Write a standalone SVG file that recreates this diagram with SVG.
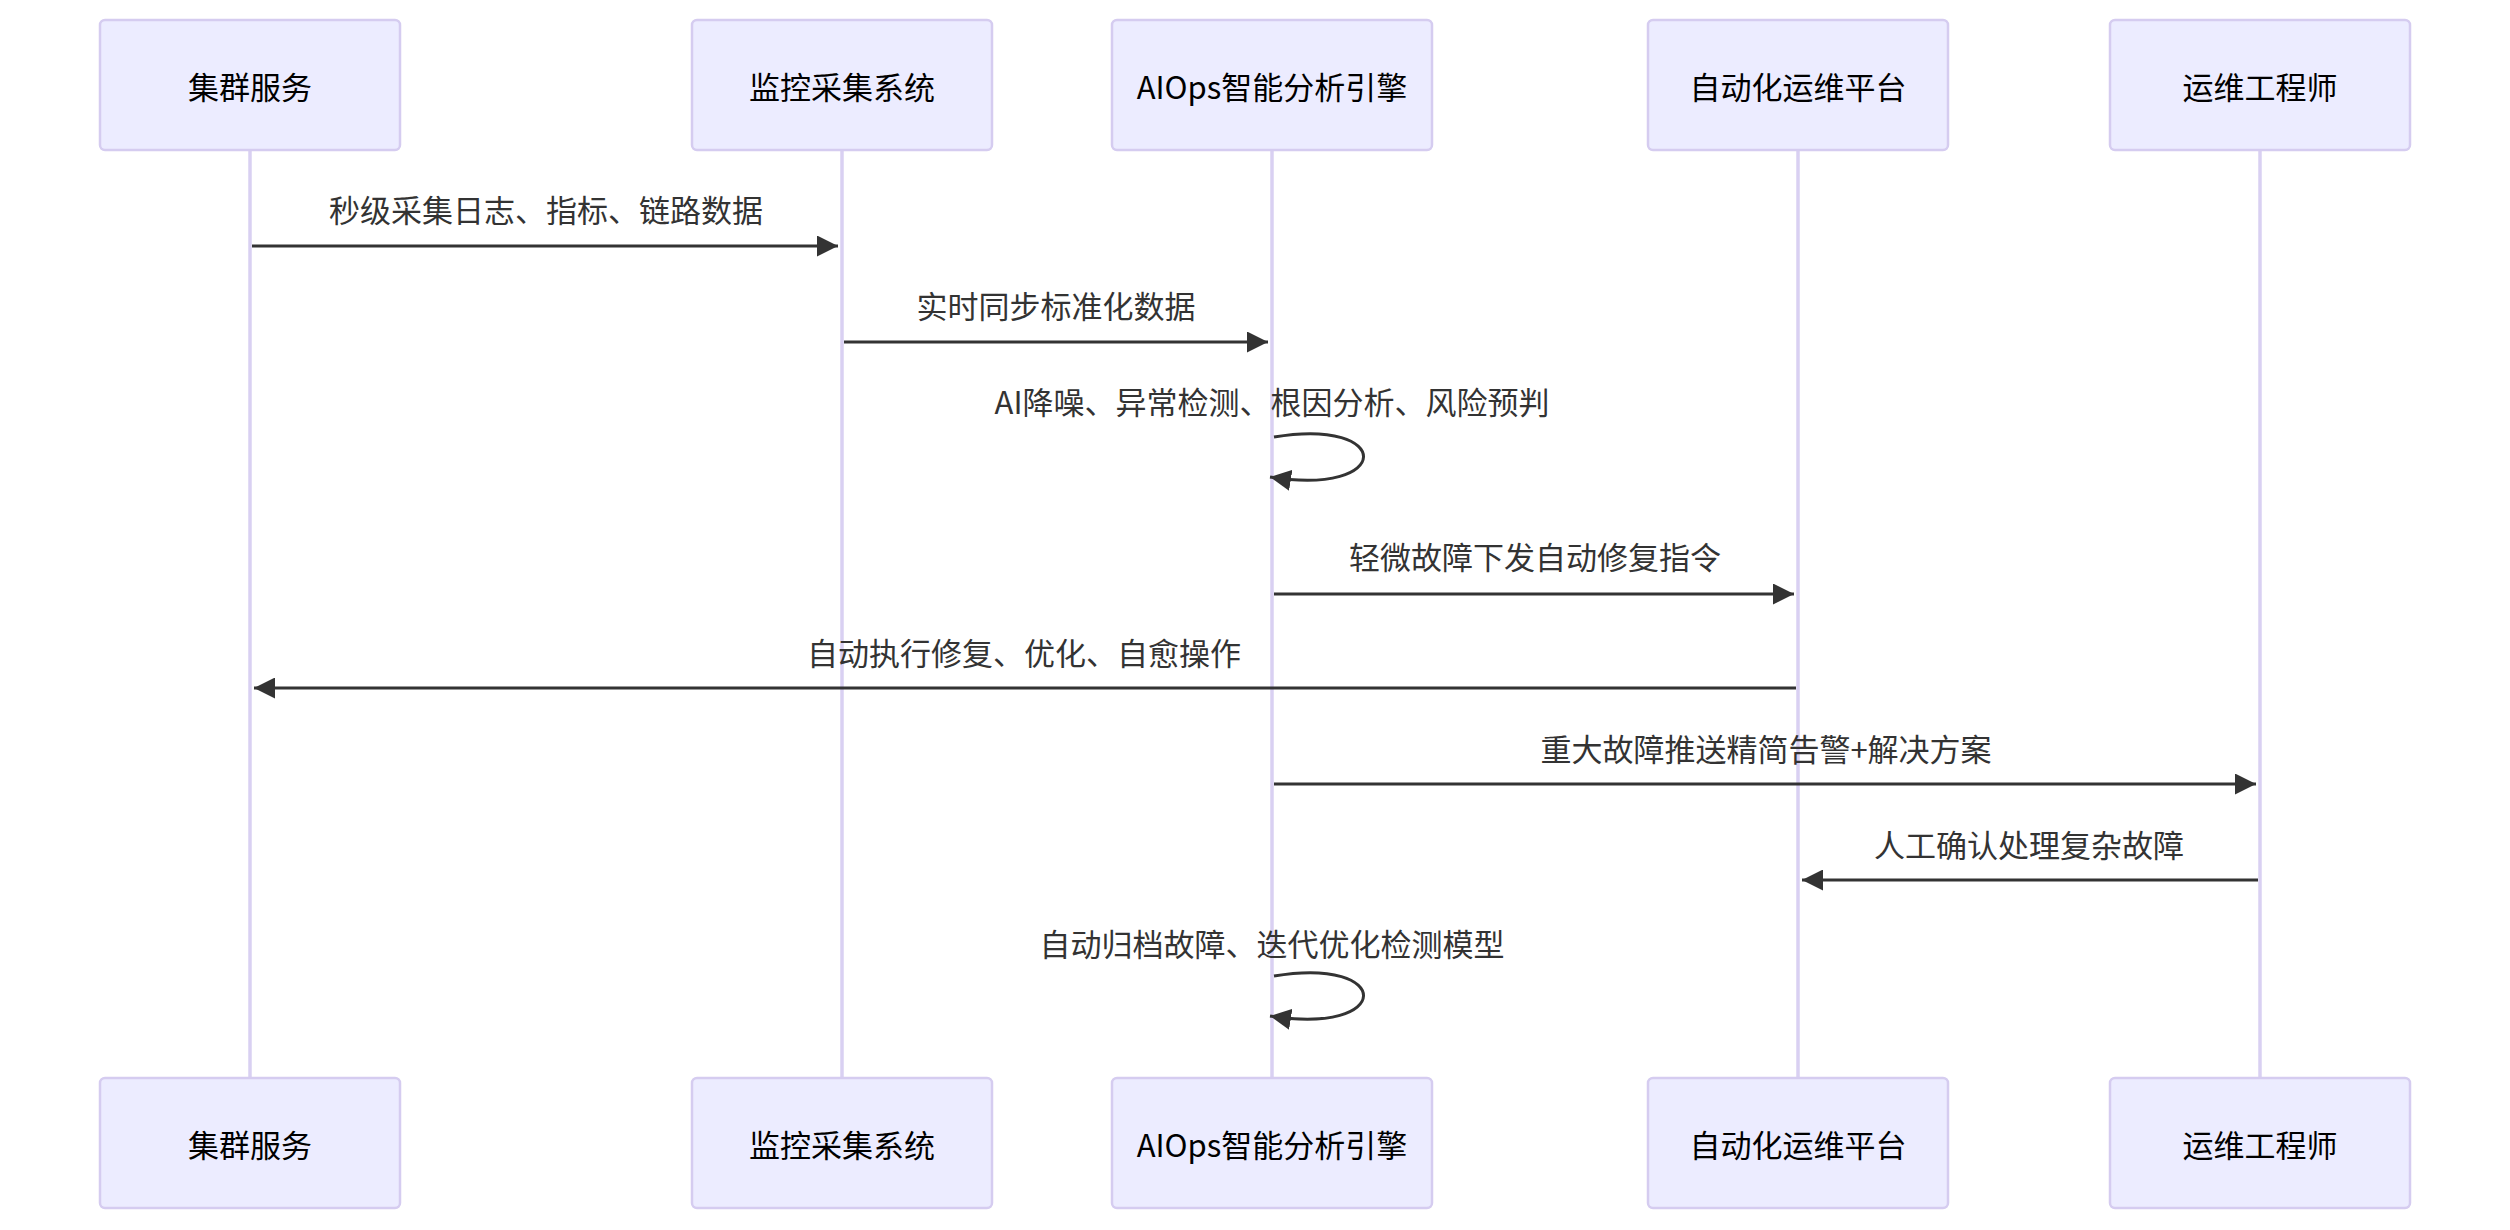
<svg xmlns="http://www.w3.org/2000/svg" width="2510" height="1230" viewBox="0 0 2510 1230">
<style>
.box{fill:#ECECFF;stroke:#D5CCF0;stroke-width:2.5}
.at{font-family:"Noto Sans CJK SC","Noto Sans",sans-serif;font-size:31px;fill:#000;text-anchor:middle;dominant-baseline:central}
.mt{font-family:"Noto Sans CJK SC","Noto Sans",sans-serif;font-size:31px;fill:#333;text-anchor:middle;dominant-baseline:central}
.life{stroke:#D9D0F2;stroke-width:3.5}
.msg{stroke:#333;stroke-width:3;fill:none;marker-end:url(#ah)}
</style>
<defs>
<marker id="ah" viewBox="0 0 10 10" refX="10" refY="5" markerWidth="7" markerHeight="7" orient="auto-start-reverse" markerUnits="strokeWidth">
<path d="M0,0 L10,5 L0,10 z" fill="#333"/>
</marker>
</defs>
<rect width="2510" height="1230" fill="#fff"/>
<g id="lifelines">
<line class="life" x1="250" y1="150" x2="250" y2="1078"/>
<line class="life" x1="842" y1="150" x2="842" y2="1078"/>
<line class="life" x1="1272" y1="150" x2="1272" y2="1078"/>
<line class="life" x1="1798" y1="150" x2="1798" y2="1078"/>
<line class="life" x1="2260" y1="150" x2="2260" y2="1078"/>
</g>
<g id="a1"><rect class="box" x="100" y="20" width="300" height="130" rx="5"/><text class="at" x="250" y="85">集群服务</text></g>
<g id="a2"><rect class="box" x="692" y="20" width="300" height="130" rx="5"/><text class="at" x="842" y="85">监控采集系统</text></g>
<g id="a3"><rect class="box" x="1112" y="20" width="320" height="130" rx="5"/><text class="at" x="1272" y="85">AIOps智能分析引擎</text></g>
<g id="a4"><rect class="box" x="1648" y="20" width="300" height="130" rx="5"/><text class="at" x="1798" y="85">自动化运维平台</text></g>
<g id="a5"><rect class="box" x="2110" y="20" width="300" height="130" rx="5"/><text class="at" x="2260" y="85">运维工程师</text></g>
<g id="b1"><rect class="box" x="100" y="1078" width="300" height="130" rx="5"/><text class="at" x="250" y="1143">集群服务</text></g>
<g id="b2"><rect class="box" x="692" y="1078" width="300" height="130" rx="5"/><text class="at" x="842" y="1143">监控采集系统</text></g>
<g id="b3"><rect class="box" x="1112" y="1078" width="320" height="130" rx="5"/><text class="at" x="1272" y="1143">AIOps智能分析引擎</text></g>
<g id="b4"><rect class="box" x="1648" y="1078" width="300" height="130" rx="5"/><text class="at" x="1798" y="1143">自动化运维平台</text></g>
<g id="b5"><rect class="box" x="2110" y="1078" width="300" height="130" rx="5"/><text class="at" x="2260" y="1143">运维工程师</text></g>
<g id="connectors">
<line class="msg" x1="252" y1="246" x2="838" y2="246"/>
<text class="mt" x="546" y="208">秒级采集日志、指标、链路数据</text>
<line class="msg" x1="844" y1="342" x2="1268" y2="342"/>
<text class="mt" x="1056" y="304">实时同步标准化数据</text>
<path class="msg" d="M1274,437 C1394,417 1394,497 1270,477"/>
<text class="mt" x="1272" y="400">AI降噪、异常检测、根因分析、风险预判</text>
<line class="msg" x1="1274" y1="594" x2="1794" y2="594"/>
<text class="mt" x="1535" y="555">轻微故障下发自动修复指令</text>
<line class="msg" x1="1796" y1="688" x2="254" y2="688"/>
<text class="mt" x="1024" y="651">自动执行修复、优化、自愈操作</text>
<line class="msg" x1="1274" y1="784" x2="2256" y2="784"/>
<text class="mt" x="1766" y="747">重大故障推送精简告警+解决方案</text>
<line class="msg" x1="2258" y1="880" x2="1802" y2="880"/>
<text class="mt" x="2029" y="843">人工确认处理复杂故障</text>
<path class="msg" d="M1274,976 C1394,956 1394,1036 1270,1016"/>
<text class="mt" x="1272" y="942">自动归档故障、迭代优化检测模型</text>
</g>
</svg>
